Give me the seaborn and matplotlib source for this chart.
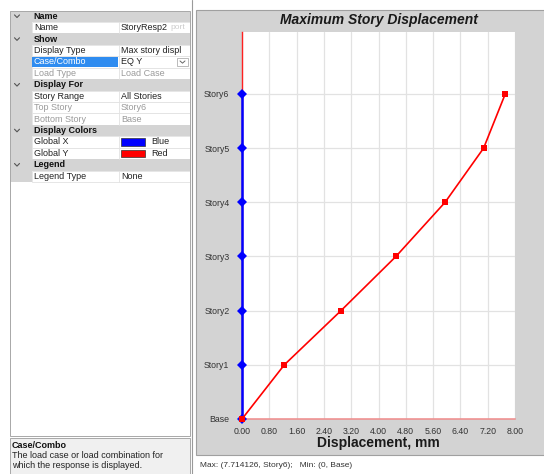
import matplotlib
matplotlib.use("Agg")
import matplotlib.pyplot as plt
from matplotlib.patches import Rectangle
import numpy as np
import pandas as pd
import seaborn as sns

# ---- chart data -------------------------------------------------------
stories = ["Base", "Story1", "Story2", "Story3", "Story4", "Story5", "Story6"]
disp_global_y = [0.0, 1.24, 2.90, 4.51, 5.95, 7.08, 7.714126]   # mm, EQ Y
disp_global_x = [0.0, 0.0, 0.0, 0.0, 0.0, 0.0, 0.0]              # mm
x_ticks = [0.00, 0.80, 1.60, 2.40, 3.20, 4.00, 4.80, 5.60, 6.40, 7.20, 8.00]

# ---- property grid contents ------------------------------------------
grid_rows = [
    ("cat", "Name", ""),
    ("prop", "Name", "StoryResp2"),
    ("cat", "Show", ""),
    ("prop", "Display Type", "Max story displ"),
    ("sel", "Case/Combo", "EQ Y"),
    ("dis", "Load Type", "Load Case"),
    ("cat", "Display For", ""),
    ("prop", "Story Range", "All Stories"),
    ("dis", "Top Story", "Story6"),
    ("dis", "Bottom Story", "Base"),
    ("cat", "Display Colors", ""),
    ("color", "Global X", "Blue"),
    ("color", "Global Y", "Red"),
    ("cat", "Legend", ""),
    ("prop", "Legend Type", "None"),
]
swatch = {"Blue": "#0000ff", "Red": "#ff0000"}

sns.set_style("white")
plt.rcParams["font.family"] = ["Liberation Sans", "DejaVu Sans"]

W, H = 544, 474
fig = plt.figure(figsize=(W / 100, H / 100), dpi=100, facecolor="white")

# full-figure canvas in pixel coordinates for the surrounding panels
ui = fig.add_axes([0, 0, 1, 1])
ui.set_xlim(0, W)
ui.set_ylim(H, 0)
ui.axis("off")

fs = 6.5
row_top, row_h = 10.5, 11.43
gx0, gname, gval, gx1 = 10, 31.5, 118.5, 190

# left chevron column
ui.add_patch(Rectangle((gx0, row_top), gname - gx0, row_h * len(grid_rows),
                       facecolor="#d4d4d4", edgecolor="none"))
for i, (kind, name, val) in enumerate(grid_rows):
    y0 = row_top + i * row_h
    yc = y0 + row_h / 2
    if kind == "cat":
        ui.add_patch(Rectangle((gname, y0), gx1 - gname, row_h,
                               facecolor="#d4d4d4", edgecolor="none"))
        ui.plot([gx0 + 4.5, gx0 + 7, gx0 + 9.5], [yc - 1.3, yc + 1.3, yc - 1.3],
                color="#555555", lw=0.8)
        ui.text(gname + 2, yc, name, fontsize=fs, fontweight="bold",
                color="#111111", va="center", ha="left")
        continue
    ui.add_patch(Rectangle((gname, y0), gx1 - gname, row_h,
                           facecolor="white", edgecolor="#e2e2e2", lw=0.6))
    ui.plot([gval, gval], [y0, y0 + row_h], color="#e2e2e2", lw=0.6)
    name_col, val_col = "#222222", "#222222"
    if kind == "dis":
        name_col = val_col = "#9a9a9a"
    if kind == "sel":
        ui.add_patch(Rectangle((gname + 0.5, y0 + 0.5), gval - gname - 1, row_h - 1,
                               facecolor="#2f8cf0", edgecolor="none"))
        name_col = "white"
        ui.add_patch(Rectangle((gx1 - 13, y0 + 1.5), 11, row_h - 3,
                               facecolor="white", edgecolor="#b0b0b0", lw=0.6))
        ui.plot([gx1 - 10, gx1 - 7.5, gx1 - 5], [yc - 1, yc + 1.2, yc - 1],
                color="#666666", lw=0.7)
    ui.text(gname + 2.5, yc, name, fontsize=fs, color=name_col, va="center", ha="left")
    if kind == "color":
        ui.add_patch(Rectangle((gval + 2.5, y0 + 2), 24, row_h - 4,
                               facecolor=swatch[val], edgecolor="#333333", lw=0.5))
        ui.text(gval + 33, yc, val, fontsize=fs, color=val_col, va="center", ha="left")
    else:
        ui.text(gval + 2.5, yc, val, fontsize=fs, color=val_col, va="center", ha="left")
        if name == "Name":
            ui.text(gval + 52, yc, "port", fontsize=fs - 0.5, color="#cccccc",
                    va="center", ha="left")

# empty area below the grid and the help box
ui.add_patch(Rectangle((gx0, row_top), gx1 - gx0, 436 - row_top,
                       facecolor="none", edgecolor="#a8a8a8", lw=0.7))
ui.add_patch(Rectangle((gx0, 438), gx1 - gx0, 40,
                       facecolor="#f0f0f0", edgecolor="#a8a8a8", lw=0.7))
ui.text(gx0 + 2, 445, "Case/Combo", fontsize=fs, fontweight="bold",
        color="#111111", va="center")
ui.text(gx0 + 2, 456, "The load case or load combination for", fontsize=fs,
        color="#222222", va="center")
ui.text(gx0 + 2, 466, "which the response is displayed.", fontsize=fs,
        color="#222222", va="center")

# splitter between the two panels
ui.plot([192, 192], [0, H], color="#9a9a9a", lw=0.8)

# chart panel
ui.add_patch(Rectangle((196, 10), W - 196 + 2, 445, facecolor="#d3d3d3",
                       edgecolor="#a0a0a0", lw=0.8))
ui.text(200, 465.5, "Max: (7.714126, Story6);   Min: (0, Base)", fontsize=6,
        color="#333333", va="center", ha="left")

# ---- story displacement plot ------------------------------------------
left, right, top, bottom = 242, 515, 32, 419
ax = fig.add_axes([left / W, 1 - bottom / H, (right - left) / W, (bottom - top) / H])
ax.set_facecolor("white")

df = pd.DataFrame({
    "story": stories,
    "level": np.arange(len(stories)),
    "gx": disp_global_x,
    "gy": disp_global_y,
})

sns.lineplot(data=df, x="gx", y="level", sort=False, estimator=None, ax=ax,
             color="#0000ff", lw=1.8, marker="D", markersize=4.6,
             markeredgewidth=0, zorder=4, clip_on=False)
sns.lineplot(data=df, x="gy", y="level", sort=False, estimator=None, ax=ax,
             color="#ff0000", lw=1.2, marker="s", markersize=3.8,
             markeredgewidth=0, zorder=5, clip_on=False)

ax.set_xlim(0, 8)
ax.set_ylim(0, (bottom - top) / 54.17)
ax.set_xticks(x_ticks)
ax.set_xticklabels([f"{v:.2f}" for v in x_ticks])
ax.set_yticks(df["level"])
ax.set_yticklabels(stories)
ax.grid(True, color="#e2e2e2", lw=0.9)
ax.set_axisbelow(True)

for side in ("top", "right"):
    ax.spines[side].set_visible(False)
ax.spines["left"].set_color("#ff2020")
ax.spines["left"].set_linewidth(1.0)
ax.spines["bottom"].set_color("#f08a8a")
ax.spines["bottom"].set_linewidth(1.1)

ax.tick_params(axis="x", direction="inout", length=5, width=0.8, color="#444444",
               labelsize=6.3, labelcolor="#333333", pad=3)
ax.tick_params(axis="y", length=0, labelsize=6.3, labelcolor="#333333", pad=9)

ax.set_title("Maximum Story Displacement", fontsize=10, fontweight="bold",
             fontstyle="italic", color="#1a1a1a", pad=6)
ax.set_xlabel("Displacement, mm", fontsize=10, fontweight="bold", color="#1a1a1a")
ax.xaxis.label.set_va("center")
ax.xaxis.set_label_coords(0.5, -(443 - bottom) / (bottom - top))
ax.set_ylabel("")

fig.savefig("out.png", dpi=100, facecolor=fig.get_facecolor())
